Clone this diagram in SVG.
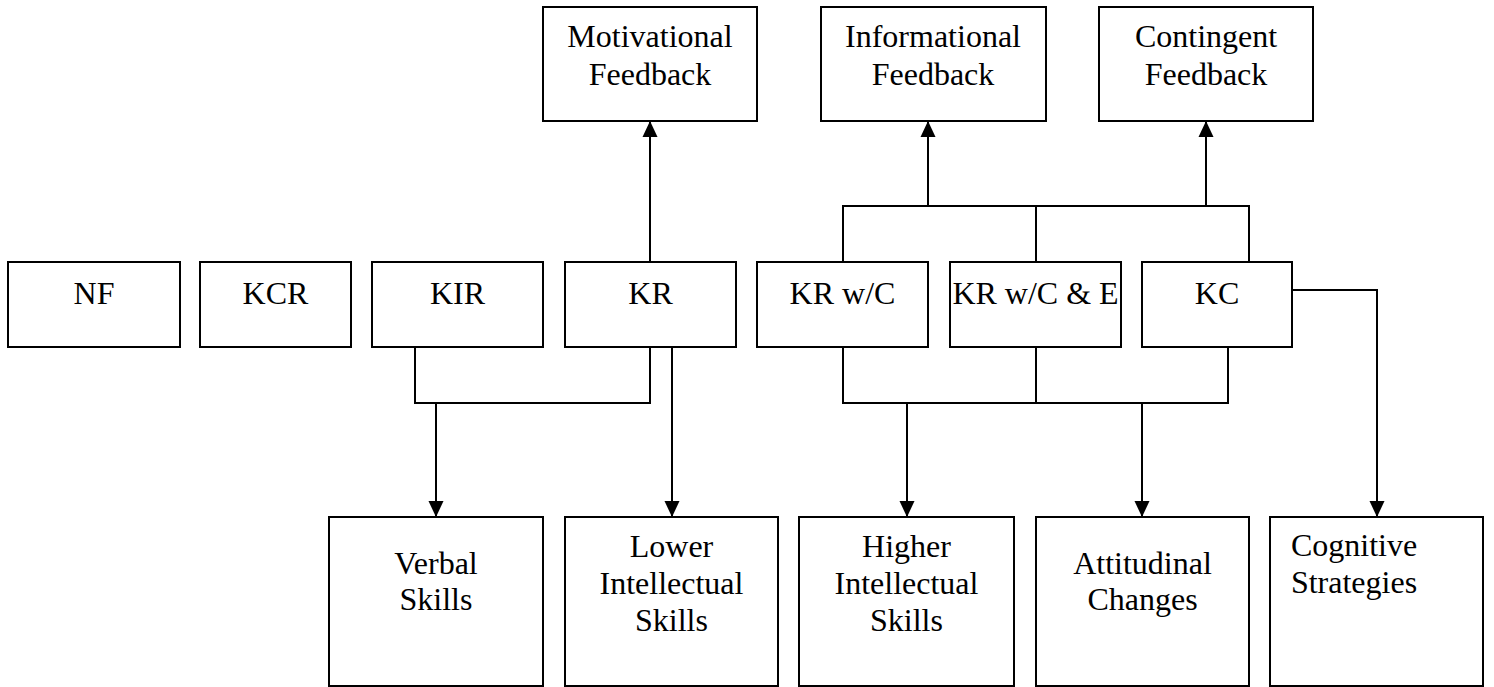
<svg xmlns="http://www.w3.org/2000/svg" width="1494" height="687" viewBox="0 0 1494 687">
<style>
  rect.box { fill: #ffffff; stroke: #000000; stroke-width: 2; }
  .conn { fill: none; stroke: #000000; stroke-width: 2; }
</style>
<defs>
  <marker id="arrow" markerUnits="userSpaceOnUse" markerWidth="16" markerHeight="16" viewBox="0 0 16 16" refX="16" refY="8" orient="auto">
    <path d="M0,0.5 L16,8 L0,15.5 Z" fill="#000000"/>
  </marker>
</defs>
<rect width="1494" height="687" fill="#ffffff"/>

<g id="connectors">
  <path class="conn" d="M650,262 V121" marker-end="url(#arrow)"/>
  <path class="conn" d="M843,262 V206 H1249 V262"/>
  <path class="conn" d="M1036,206 V262"/>
  <path class="conn" d="M928,206 V121" marker-end="url(#arrow)"/>
  <path class="conn" d="M1206,206 V121" marker-end="url(#arrow)"/>
  <path class="conn" d="M415,347 V403 H650 V347"/>
  <path class="conn" d="M436,403 V517" marker-end="url(#arrow)"/>
  <path class="conn" d="M672,347 V517" marker-end="url(#arrow)"/>
  <path class="conn" d="M843,347 V403 H1228 V347"/>
  <path class="conn" d="M1036,347 V403"/>
  <path class="conn" d="M907,403 V517" marker-end="url(#arrow)"/>
  <path class="conn" d="M1142,403 V517" marker-end="url(#arrow)"/>
  <path class="conn" d="M1292,290 H1377 V517" marker-end="url(#arrow)"/>
</g>

<g font-family="Liberation Serif, Times New Roman, serif" font-size="32" fill="#000000" text-anchor="middle">
<g id="motivational-feedback">
  <rect class="box" x="543" y="7" width="214" height="114"/>
  <text x="650" y="47">Motivational</text>
  <text x="650" y="85">Feedback</text>
</g>
<g id="informational-feedback">
  <rect class="box" x="821" y="7" width="225" height="114"/>
  <text x="933" y="47">Informational</text>
  <text x="933" y="85">Feedback</text>
</g>
<g id="contingent-feedback">
  <rect class="box" x="1099" y="7" width="214" height="114"/>
  <text x="1206" y="47">Contingent</text>
  <text x="1206" y="85">Feedback</text>
</g>

<g id="nf">
  <rect class="box" x="8" y="262" width="172" height="85"/>
  <text x="94" y="304">NF</text>
</g>
<g id="kcr">
  <rect class="box" x="200" y="262" width="151" height="85"/>
  <text x="275.5" y="304">KCR</text>
</g>
<g id="kir">
  <rect class="box" x="372" y="262" width="171" height="85"/>
  <text x="457.5" y="304">KIR</text>
</g>
<g id="kr">
  <rect class="box" x="565" y="262" width="171" height="85"/>
  <text x="650.5" y="304">KR</text>
</g>
<g id="kr-wc">
  <rect class="box" x="757" y="262" width="171" height="85"/>
  <text x="842.5" y="304">KR w/C</text>
</g>
<g id="kr-wc-e">
  <rect class="box" x="950" y="262" width="171" height="85"/>
  <text x="1035.5" y="304">KR w/C &amp; E</text>
</g>
<g id="kc">
  <rect class="box" x="1142" y="262" width="150" height="85"/>
  <text x="1217" y="304">KC</text>
</g>

<g id="verbal-skills">
  <rect class="box" x="329" y="517" width="214" height="169"/>
  <text x="436" y="574">Verbal</text>
  <text x="436" y="610">Skills</text>
</g>
<g id="lower-intellectual-skills">
  <rect class="box" x="565" y="517" width="213" height="169"/>
  <text x="671.5" y="557">Lower</text>
  <text x="671.5" y="594">Intellectual</text>
  <text x="671.5" y="631">Skills</text>
</g>
<g id="higher-intellectual-skills">
  <rect class="box" x="799" y="517" width="215" height="169"/>
  <text x="906.5" y="557">Higher</text>
  <text x="906.5" y="594">Intellectual</text>
  <text x="906.5" y="631">Skills</text>
</g>
<g id="attitudinal-changes">
  <rect class="box" x="1036" y="517" width="213" height="169"/>
  <text x="1142.5" y="574">Attitudinal</text>
  <text x="1142.5" y="610">Changes</text>
</g>
<g id="cognitive-strategies">
  <rect class="box" x="1270" y="517" width="213" height="169"/>
  <text x="1354" y="556">Cognitive</text>
  <text x="1354" y="593">Strategies</text>
</g>
</g>
</svg>
